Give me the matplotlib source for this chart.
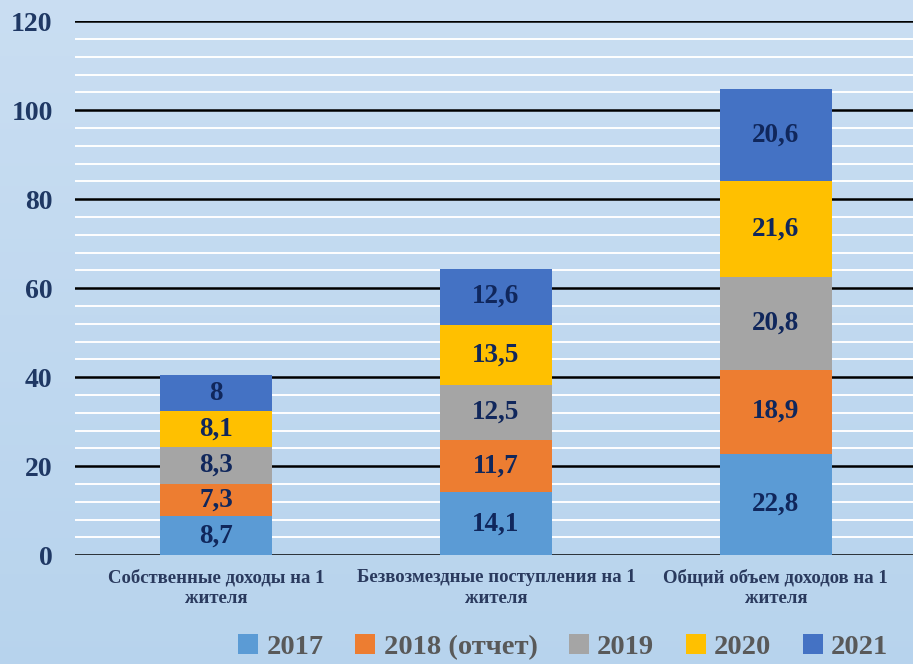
import numpy as np
import matplotlib
matplotlib.use("Agg")
import matplotlib.pyplot as plt
from matplotlib.patches import Patch

categories = ["Собственные доходы на 1\nжителя",
              "Безвозмездные поступления на 1\nжителя",
              "Общий объем доходов на 1\nжителя"]
years = ["2017", "2018 (отчет)", "2019", "2020", "2021"]
v2017 = [8.7, 14.1, 22.8]
v2018 = [7.3, 11.7, 18.9]
v2019 = [8.3, 12.5, 20.8]
v2020 = [8.1, 13.5, 21.6]
v2021 = [8.0, 12.6, 20.6]
series = [v2017, v2018, v2019, v2020, v2021]
colors = ["#5B9BD5", "#ED7D31", "#A5A5A5", "#FFC000", "#4472C4"]

plt.rcParams['font.family'] = ['Liberation Serif', 'DejaVu Serif']

fig = plt.figure(figsize=(9.13, 6.64), dpi=100)

# background gradient
bg = fig.add_axes([0, 0, 1, 1], zorder=-10)
top = np.array([0.79, 0.87, 0.95])
bot = np.array([0.72, 0.83, 0.93])
t = np.linspace(0, 1, 200)[:, None]
grad = top * (1 - t) + bot * t
bg.imshow(grad[:, None, :].repeat(2, axis=1), aspect="auto", extent=[0, 1, 0, 1])
bg.set_axis_off()

ax = fig.add_axes([0.082, 0.164, 0.918, 0.804])
ax.set_facecolor("none")

x = np.arange(len(categories))
bottom = np.zeros(len(categories))
for vals, col in zip(series, colors):
    bars = ax.bar(x, vals, 0.4, bottom=bottom, color=col, zorder=3)
    for b, v, b0 in zip(bars, vals, bottom):
        lbl = ("%g" % v).replace(".", ",")
        ax.text(b.get_x() + b.get_width() / 2, b0 + v / 2, lbl,
                ha="center", va="center", fontsize=19.5, fontweight="bold",
                color="#10275C", zorder=4)
    bottom += np.array(vals)

ax.set_xlim(-0.504, 2.49)
ax.set_ylim(0, 120)
ax.set_yticks(np.arange(0, 121, 20))
ax.set_yticks(np.arange(0, 121, 4), minor=True)
ax.grid(axis="y", which="minor", color="white", lw=1.4, zorder=1)
ax.grid(axis="y", which="major", color="black", lw=1.8, zorder=2)
ax.tick_params(axis="y", which="both", length=0, pad=16)
ax.tick_params(axis="x", length=0, pad=10)
for lab in ax.get_yticklabels():
    lab.set_fontsize(20)
    lab.set_fontweight("bold")
    lab.set_color("#1F3864")
ax.set_xticks(x)
ax.set_xticklabels(categories, fontsize=13.5, fontweight="bold", color="#2A3A5E",
                   linespacing=1.3)
for s in ax.spines.values():
    s.set_visible(False)

handles = [Patch(facecolor=c, edgecolor="none") for c in colors]
leg = fig.legend(handles, years, loc="center", bbox_to_anchor=(0.617, 0.025),
                 ncol=5, frameon=False, handlelength=0.7, handleheight=0.7,
                 handletextpad=0.3, columnspacing=1.1,
                 prop={"size": 20.5, "weight": "bold"})
for txt in leg.get_texts():
    txt.set_color("#595959")

fig.savefig("out.png", dpi=100)
